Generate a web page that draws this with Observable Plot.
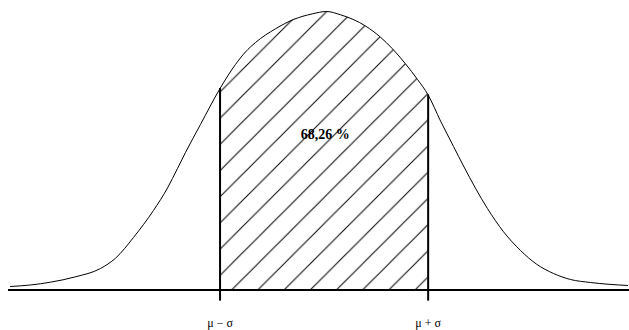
<!DOCTYPE html>
<html><head><meta charset="utf-8">
<script src="https://cdn.jsdelivr.net/npm/d3@7"></script>
<script src="https://cdn.jsdelivr.net/npm/@observablehq/plot@0.6"></script>
<style>body{margin:0;background:#fff}</style>
</head><body><div id="chart"></div>
<script>
// curve positions in units of sigma (mu = 0) and relative density (peak = 1)
const curveZ = [-3.014, -2.822, -2.630, -2.389, -2.149, -2.005, -1.832, -1.640, -1.505, -1.409, -1.332, -1.188, -1.000, -0.852, -0.756, -0.659, -0.467, -0.294, -0.111, 0.023, 0.158, 0.398, 0.542, 0.657, 0.782, 0.898, 1.000, 1.119, 1.244, 1.340, 1.570, 1.724, 1.888, 2.041, 2.205, 2.368, 2.561, 2.916];
const curveH = [0.0126, 0.018, 0.028, 0.0474, 0.0772, 0.114, 0.1885, 0.2855, 0.3662, 0.4363, 0.4937, 0.5943, 0.7235, 0.8097, 0.8546, 0.8887, 0.9379, 0.9713, 0.9917, 1.000, 0.9882, 0.9479, 0.9077, 0.8661, 0.8122, 0.7558, 0.7002, 0.6068, 0.5153, 0.4452, 0.2926, 0.2093, 0.1418, 0.0930, 0.0592, 0.0377, 0.0269, 0.0162];
const tickValues = [-1, 1];
const tickLabels = ["μ − σ", "μ + σ"];
const areaLabel = ["68,26 %"];
const areaLabelZ = [0.01];
const areaLabelH = [0.56];

const curve = curveZ.map((z, i) => ({z, h: curveH[i]}));
const inside = curve.filter(d => d.z >= -1 && d.z <= 1);
const bounds = tickValues.map(t => ({z: t, h: curve.find(d => d.z === t).h}));
const labels = areaLabel.map((t, i) => ({t, z: areaLabelZ[i], h: areaLabelH[i]}));

const plot = Plot.plot({
  width: 629, height: 330,
  marginLeft: 8, marginRight: 0, marginTop: 11, marginBottom: 40.5,
  x: {domain: [-3.033, 2.935], label: null},
  y: {domain: [0, 1], axis: null, label: null},
  style: {fontFamily: "'Liberation Serif', serif", background: "#fff", color: "#000"},
  marks: [
    Plot.areaY(inside, {x: "z", y: "h", curve: "monotone-x", fill: "url(#hatch)"}),
    Plot.lineY(curve, {x: "z", y: "h", curve: "monotone-x", stroke: "#000", strokeWidth: 1}),
    Plot.ruleY([0], {stroke: "#000", strokeWidth: 2}),
    Plot.ruleX(bounds, {x: "z", y1: -0.04, y2: "h", stroke: "#000", strokeWidth: 2}),
    Plot.axisX(tickValues, {tickSize: 0, tickPadding: 28, label: null, fontSize: 12,
      tickFormat: d => tickLabels[tickValues.indexOf(d)]}),
    Plot.text(labels, {x: "z", y: "h", text: "t", fontSize: 14, fontWeight: "bold", fill: "#000"})
  ]
});

const ns = "http://www.w3.org/2000/svg";
const defs = document.createElementNS(ns, "defs");
const pat = document.createElementNS(ns, "pattern");
pat.setAttribute("id", "hatch");
pat.setAttribute("patternUnits", "userSpaceOnUse");
pat.setAttribute("x", "23.8");
pat.setAttribute("y", "0");
pat.setAttribute("width", "26.2");
pat.setAttribute("height", "26.2");
const p = document.createElementNS(ns, "path");
p.setAttribute("d", "M0,26.2L26.2,0M-2,2L2,-2M24.2,28.2L28.2,24.2");
p.setAttribute("stroke", "#000");
p.setAttribute("stroke-width", "1");
pat.appendChild(p);
defs.appendChild(pat);
plot.insertBefore(defs, plot.firstChild);
document.getElementById("chart").appendChild(plot);
</script>
</body></html>
